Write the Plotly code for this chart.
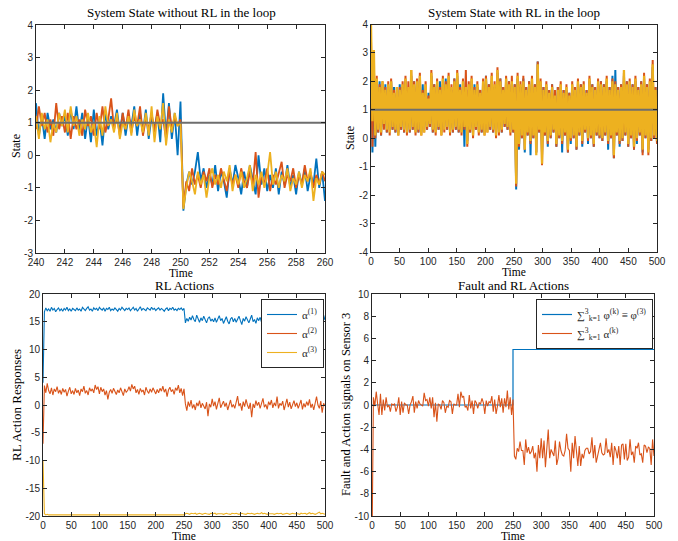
import numpy as np
import plotly.graph_objects as go

W, H = 678, 541
BLUE, RED, YEL, GRAY = "#0072BD", "#D95319", "#EDB120", "#6E6E6E"

# ---------------- Panel 1: System state without RL (t = 240..260) ----------------
t1 = np.round(np.arange(240, 260.0001, 0.2), 1)
s1_blue = [1.6, 0.6, 1.2, 0.5, 1.3, 0.8, 1.1, 0.7, 1.3, 0.9,
           1.2, 0.6, 1.4, 0.8, 1.5, 0.7, 1.3, 0.5, 1.2, 0.4,
           1.4, 0.6, 1.1, 0.3, 1.3, 0.8, 1.2, 0.9, 1.4, 0.7,
           1.3, 0.6, 1.2, 0.9, 1.5, 0.6, 1.3, 0.7, 1.4, 0.5,
           1.2, 0.8, 1.3, 0.4, 1.9, 0.6, 1.6, 0.5, 1.3, 0.0,
           1.65,
           -1.7, -0.9, -0.5, -0.9, -0.5, 0.1, -0.8, -0.4, -1.0, -0.6,
           -0.9, -0.3, -1.1, -0.5, -0.8, -1.3, -0.4, -0.9, -0.3, -0.7,
           -1.2, -0.5, -1.0, -0.3, -0.8, -1.2, 0.0, -0.9, -0.4, -1.1,
           -0.6, -1.0, -0.4, -1.2, -0.5, -0.9, -0.3, -1.0, -0.6, -1.2,
           -0.5, -0.9, -0.4, -1.1, -0.6, -0.9, -0.1, -1.0, -0.5, -1.4]
s1_red = [0.8, 1.5, 0.9, 1.3, 0.7, 1.1, 0.6, 1.6, 0.8, 1.2,
          0.7, 1.3, 0.5, 1.2, 0.8, 1.1, 0.6, 1.4, 0.9, 1.2,
          0.6, 1.3, 0.8, 1.5, 0.7, 1.1, 1.75, 0.8, 1.2, 0.6,
          1.3, 0.8, 1.4, 0.7, 1.2, 0.9, 1.5, 0.6, 1.1, 0.8,
          1.3, 0.7, 1.4, 0.9, 1.1, 0.5, 1.5, 0.8, 1.2, 0.9,
          1.1,
          -1.6, -0.8, -1.1, -0.4, -0.9, -0.6, -1.0, -0.5, -0.8, -0.4,
          -1.0, -0.6, -0.9, -0.4, -0.8, -1.1, -0.5, -0.9, -0.6, -1.0,
          -0.4, -0.8, -1.0, -0.5, -0.9, 0.1, -1.3, -0.6, -0.9, -0.4,
          -1.1, -0.6, -0.9, -0.5, -0.2, -1.0, -0.6, -0.8, -0.4, -1.0,
          -0.6, -0.9, -0.3, -0.8, -0.5, -1.0, -0.6, -0.9, -0.5, -0.8]
s1_yel = [1.2, 0.5, 1.3, 0.8, 1.1, 0.4, 1.0, 0.7, 1.3, 0.9,
          1.4, 0.7, 1.5, 0.9, 1.2, 0.6, 1.1, 0.8, 1.3, 0.7,
          1.0, 0.25, 1.2, 0.6, 1.5, 0.9, 1.1, 0.7, 1.3, 0.5,
          1.0, 0.8, 1.2, 0.6, 1.4, 0.9, 1.1, 0.7, 1.3, 0.6,
          1.5, 0.4, 1.2, 0.8, 1.6, 0.3, 1.1, 0.7, 1.3, 0.9,
          1.0,
          -1.65, -1.0, -0.5, -0.8, -1.2, -0.5, -0.9, -0.6, -1.3, -0.7,
          -0.4, -0.9, -0.6, -1.0, -0.5, -0.8, -0.3, -1.1, -0.6, -0.9,
          -0.5, -1.0, -0.7, -0.3, -1.1, -0.6, -0.9, -0.5, -1.0, -0.6,
          0.1, -0.9, -0.5, -1.0, -0.6, -0.8, -0.4, -1.1, -0.7, -0.9,
          -0.5, -1.0, -0.6, -0.8, -0.4, -1.4, -0.7, -0.9, -0.5, -0.6]
ref_level = 1.0

# ---------------- Panel 2: System state with RL (peaks / troughs, t = 0..500) ----------------
s2_yel_up = [4.0, 3.1, 2.1, 1.8, 2.0, 1.7, 1.9, 2.0, 1.6, 1.8,
             1.7, 1.9, 2.1, 1.8, 2.4, 1.9, 2.0, 2.2, 1.6, 1.9,
             1.4, 2.3, 1.8, 2.0, 1.7, 2.1, 1.9, 2.2, 1.8, 2.0,
             2.3, 1.7, 2.0, 1.8, 1.9, 2.1, 1.7, 1.9, 1.6, 2.0,
             2.1, 1.8, 2.2, 1.9, 2.4, 2.0, 1.7, 2.1, 1.9, 2.0,
             1.8, 2.2, 1.9, 2.0, 1.7, 1.9, 2.1, 1.8, 2.6, 2.0,
             1.7, 1.9, 1.6, 1.8, 1.5, 1.7, 1.9, 1.6, 1.8, 1.5,
             1.9, 1.7, 2.0, 1.8, 1.9, 1.6, 2.1, 1.8, 1.7, 2.0,
             1.9, 1.8, 2.1, 1.7, 2.0, 1.9, 1.7, 1.8, 2.4, 1.9,
             2.0, 1.8, 2.1, 1.7, 1.9, 2.2, 1.8, 2.0, 2.6, 1.7]
s2_yel_lo = [0.6, 0.1, 0.3, 0.2, 0.5, 0.3, 0.2, 0.4, 0.3, 0.1,
             0.4, 0.3, 0.2, 0.3, 0.4, 0.2, 0.3, 0.1, 0.2, 0.4,
             0.5, 0.3, 0.2, 0.4, 0.1, 0.3, 0.4, 0.2, 0.3, 0.4,
             0.3, 0.2, 0.4, -0.2, 0.3, 0.1, 0.4, 0.2, 0.3, 0.1,
             0.2, 0.4, 0.3, 0.1, 0.2, 0.3, 0.5, 0.4, 0.2, 0.3,
             -1.6, -0.2, 0.1, -0.4, 0.2, -0.1, 0.1, -0.6, 0.3, -0.9,
             0.2, -0.1, 0.1, 0.3, -0.2, 0.1, -0.1, 0.2, -0.4, 0.0,
             0.1, -0.3, 0.2, -0.1, 0.3, 0.0, 0.1, -0.2, 0.2, 0.1,
             0.0, 0.2, -0.1, 0.1, -0.6, 0.2, -0.1, 0.0, 0.2, -0.2,
             0.1, -0.3, 0.0, 0.2, -0.4, 0.1, -0.5, 0.0, 0.1, -0.1]
s2_blue_up = [3.0, 2.4, 1.9, 2.0, 1.8, 1.9, 1.7, 2.0, 1.8, 1.6,
              1.9, 1.8, 2.0, 1.7, 2.2, 2.0, 1.8, 2.1, 1.9, 1.7,
              1.6, 2.2, 1.9, 1.8, 2.0, 1.9, 2.1, 2.0, 1.7, 2.1,
              2.2, 1.9, 1.8, 2.0, 1.7, 2.0, 1.9, 1.8, 1.7, 1.9,
              2.2, 1.9, 2.0, 1.8, 2.3, 2.1, 1.8, 2.0, 2.0, 1.9,
              1.9, 2.1, 1.8, 2.1, 1.8, 2.0, 2.0, 1.9, 2.7, 1.9,
              1.8, 1.8, 1.7, 1.9, 1.6, 1.8, 1.8, 1.7, 1.7, 1.6,
              1.8, 1.8, 1.9, 1.9, 1.8, 1.7, 2.0, 1.9, 1.8, 1.9,
              2.0, 1.9, 2.0, 1.8, 2.2, 2.4, 1.8, 1.9, 2.2, 2.0,
              1.9, 1.9, 2.0, 1.8, 2.0, 2.1, 1.9, 1.9, 2.5, 1.8]
s2_blue_lo = [-0.5, -0.3, 0.2, 0.1, 0.4, 0.2, 0.3, 0.3, 0.2, 0.2,
              0.3, 0.2, 0.3, 0.2, 0.3, 0.3, 0.2, 0.2, 0.3, 0.3,
              0.4, 0.2, 0.3, 0.3, 0.2, 0.4, 0.3, 0.3, 0.2, 0.3,
              0.2, 0.3, -0.3, -0.1, 0.2, 0.2, 0.3, 0.3, 0.2, 0.2,
              0.3, 0.3, 0.2, 0.2, 0.3, 0.2, 0.4, 0.3, 0.3, 0.2,
              -1.8, -0.4, 0.0, -0.5, 0.1, -0.6, 0.0, -0.5, 0.2, -0.6,
              0.1, -0.3, 0.0, 0.2, -0.3, 0.0, -0.5, 0.1, -0.5, -0.2,
              0.0, -0.4, 0.1, -0.3, 0.2, -0.2, 0.0, -0.3, 0.1, 0.0,
              -0.1, 0.1, -0.4, 0.0, -0.7, 0.1, -0.3, -0.1, 0.1, -0.3,
              0.0, -0.4, -0.2, 0.1, -0.5, 0.0, -0.4, -0.1, 0.0, -0.2]
s2_red_up = [3.5, 2.6, 2.2, 1.9, 2.0, 1.8, 2.0, 2.1, 1.7, 1.8,
             1.8, 2.0, 2.2, 2.0, 2.4, 2.0, 2.1, 2.3, 1.7, 2.0,
             1.5, 2.4, 1.9, 2.1, 1.8, 2.2, 2.0, 2.3, 1.9, 2.1,
             2.4, 1.8, 2.1, 2.4, 2.0, 2.2, 1.8, 2.0, 1.7, 2.1,
             2.2, 1.9, 2.3, 2.0, 2.5, 2.1, 1.8, 2.2, 2.0, 2.2,
             1.9, 2.3, 2.0, 2.2, 1.8, 2.0, 2.2, 1.9, 2.7, 2.1,
             1.8, 2.0, 1.7, 1.9, 1.7, 1.8, 2.0, 1.7, 1.9, 1.6,
             2.0, 1.8, 2.1, 1.9, 2.0, 1.7, 2.2, 1.9, 1.8, 2.1,
             2.0, 1.9, 2.2, 1.8, 2.1, 2.0, 1.8, 1.9, 2.3, 2.0,
             2.1, 1.9, 2.2, 1.8, 2.0, 2.3, 1.9, 2.1, 2.75, 1.8]
s2_red_lo = [-0.3, 0.0, 0.2, 0.1, 0.3, 0.2, 0.1, 0.3, 0.2, 0.1,
             0.3, 0.2, 0.1, 0.2, 0.3, 0.1, 0.2, 0.1, 0.2, 0.3,
             0.4, 0.2, 0.1, 0.3, 0.1, 0.2, 0.3, 0.1, 0.2, 0.3,
             0.2, 0.1, 0.3, -0.3, 0.2, 0.0, 0.3, 0.1, 0.2, 0.1,
             0.2, 0.3, 0.2, 0.0, 0.1, 0.2, 0.4, 0.3, 0.1, 0.2,
             -1.7, -0.3, 0.0, -0.4, 0.1, -0.2, 0.0, -0.5, 0.2, -0.95,
             0.1, -0.2, 0.0, 0.2, -0.3, 0.0, -0.2, 0.1, -0.5, -0.1,
             0.0, -0.4, 0.1, -0.2, 0.2, -0.1, 0.0, -0.3, 0.1, 0.0,
             -0.1, 0.1, -0.2, 0.0, -0.7, 0.1, -0.2, -0.1, 0.1, -0.3,
             0.0, -0.4, -0.1, 0.1, -0.6, 0.0, -0.6, -0.1, 0.0, -0.2]

# ---------------- Panel 3: RL actions (t = 0..500, step 2.5) ----------------
t3 = np.arange(0, 500.0001, 2.5)
alpha1 = [4.0,
          16.8, 17.5, 17.0, 17.3, 16.9, 17.6, 17.1, 17.4, 16.8, 17.2, 17.5, 17.0, 17.3, 16.9, 17.4, 17.1, 17.6, 17.0, 17.3, 16.9,
          17.4, 17.2, 17.0, 17.5, 17.1, 17.3, 16.9, 17.6, 17.2, 17.0, 17.4, 17.7, 17.1, 17.3, 16.9, 17.5, 17.2, 17.4, 17.0, 17.6,
          17.3, 17.1, 17.5, 16.9, 17.4, 17.2, 17.6, 17.0, 17.3, 17.1, 17.5, 17.2, 16.9, 17.4, 17.1, 17.6, 17.3, 17.0, 17.4, 17.2,
          17.5, 17.0, 17.3, 17.6, 17.1, 17.4, 16.9, 17.3, 17.7, 17.1, 17.4, 17.2, 17.0, 17.5, 17.3, 17.1, 17.6, 17.2, 17.4, 17.0,
          17.3, 17.5, 17.1, 17.4, 17.2, 16.9, 17.3, 17.5, 17.0, 17.4, 17.2, 17.6, 17.1, 17.3, 17.0, 17.4, 17.2, 17.5, 17.1, 17.4,
          14.8, 15.6, 15.1, 15.8, 15.3, 16.1, 15.4, 15.0, 16.2, 15.5, 14.9, 15.7, 15.2, 16.0, 15.4, 14.8, 15.6, 15.9, 15.1, 15.5,
          15.0, 15.7, 14.9, 15.4, 16.1, 15.2, 15.6, 14.7, 15.3, 15.9, 15.1, 14.6, 15.5, 15.8, 15.0, 15.6, 14.9, 15.4, 16.0, 15.2,
          14.5, 15.6, 15.1, 15.9, 15.3, 14.8, 15.5, 16.2, 15.0, 15.4, 14.7, 15.7, 15.2, 15.8, 14.9, 15.5, 15.1, 15.9, 15.3, 14.6,
          15.6, 15.2, 15.8, 14.8, 15.4, 15.0, 15.9, 15.3, 14.9, 15.6, 15.1, 15.7, 14.3, 15.2, 15.5, 14.9, 15.8, 15.3, 15.0, 15.6,
          15.2, 14.8, 15.5, 15.9, 15.1, 14.7, 15.4, 15.8, 15.0, 15.6, 14.9, 15.3, 15.7, 14.4, 15.2, 16.1, 15.0, 15.5, 16.2, 15.3]
alpha2 = [-7.0,
          3.5, 2.2, 3.9, 2.6, 2.0, 3.1, 1.8, 2.9, 2.4, 3.3, 2.1, 2.7, 1.9, 3.0, 2.3, 2.8, 1.6, 2.5, 3.2, 2.0,
          2.6, 1.9, 3.0, 2.2, 2.7, 1.7, 2.9, 2.4, 3.4, 2.1, 2.6, 1.8, 3.1, 2.5, 2.9, 2.2, 3.6, 2.8, 3.3, 2.0,
          3.2, 2.4, 2.9, 1.8, 2.6, 1.0, 2.3, 2.8, 2.1, 3.0, 2.5, 1.9, 2.7, 2.2, 3.1, 2.4, 1.7, 2.9, 2.3, 2.6,
          3.3, 2.5, 3.7, 2.9, 3.4, 2.2, 2.8, 1.9, 3.0, 2.4, 2.7, 1.8, 3.2, 2.5, 2.1, 2.9, 2.3, 3.1, 2.6, 2.0,
          2.8, 2.2, 3.0, 2.5, 3.4, 2.3, 2.9, 1.5, 2.7, 3.2, 2.4, 2.8, 1.9, 3.1, 2.6, 3.6, 2.2, 3.0, 1.7, 2.9,
          0.2, -1.0, 0.6, -0.3, 0.9, -0.6, 0.1, -0.9, 0.4, -0.2, 0.8, -0.5, 0.3, -0.1, -0.7, 0.5, -2.0, 0.2, -0.4, 1.1,
          -0.2, 0.6, -0.8, 0.3, 1.3, -0.5, 0.0, 0.7, -0.3, 0.4, -0.9, 0.2, 0.9, -0.4, 0.1, -0.6, 0.5, 1.6, -0.2, 0.3,
          -1.0, 0.6, -0.3, 1.0, 0.0, -0.7, 0.4, -2.2, 0.2, -0.5, 0.8, -0.1, 0.5, -0.6, 0.3, 1.2, -0.4, 0.1, -0.8, 0.6,
          0.0, 0.9, -0.5, 0.4, -0.2, 1.5, -0.6, 0.3, -0.1, 0.7, -0.9, 0.2, 1.1, -0.4, 0.5, -0.7, 0.1, 0.8, -0.3, 0.4,
          -0.6, 0.2, 0.9, -0.8, 0.3, -0.4, 0.6, -0.1, 1.0, -0.5, 0.2, -0.9, 0.4, 1.5, 0.0, -0.6, 0.7, -1.4, 0.3, -0.2]
alpha3 = [-10.0,
          -19.6, -19.8, -19.7, -19.8, -19.8, -19.7, -19.8, -19.8, -19.7, -19.8, -19.8, -19.7, -19.8, -19.8, -19.7, -19.8, -19.8, -19.7, -19.8, -19.8,
          -19.7, -19.8, -19.8, -19.7, -19.8, -19.8, -19.8, -19.7, -19.8, -19.8, -19.7, -19.8, -19.8, -19.7, -19.8, -19.8, -19.7, -19.8, -19.8, -19.7,
          -19.8, -19.8, -19.7, -19.8, -19.8, -19.7, -19.8, -19.8, -19.8, -19.7, -19.8, -19.8, -19.7, -19.8, -19.8, -19.7, -19.8, -19.8, -19.7, -19.8,
          -19.8, -19.7, -19.8, -19.8, -19.7, -19.8, -19.8, -19.7, -19.8, -19.8, -19.7, -19.8, -19.8, -19.8, -19.7, -19.8, -19.8, -19.7, -19.8, -19.8,
          -19.7, -19.8, -19.8, -19.7, -19.8, -19.8, -19.7, -19.8, -19.8, -19.7, -19.8, -19.8, -19.7, -19.8, -19.8, -19.7, -19.8, -19.8, -19.7, -19.8,
          -19.6, -19.5, -19.6, -19.7, -19.5, -19.6, -19.6, -19.5, -19.7, -19.6, -19.5, -19.6, -19.7, -19.6, -19.5, -19.6, -19.6, -19.7, -19.5, -19.6,
          -19.6, -19.5, -19.7, -19.6, -19.6, -19.5, -19.6, -19.7, -19.6, -19.5, -19.6, -19.6, -19.7, -19.5, -19.6, -19.6, -19.5, -19.6, -19.7, -19.6,
          -19.5, -19.6, -19.6, -19.7, -19.5, -19.6, -19.6, -19.5, -19.6, -19.7, -19.6, -19.5, -19.6, -19.6, -19.4, -19.6, -19.5, -19.6, -19.7, -19.6,
          -19.6, -19.5, -19.6, -19.7, -19.6, -19.5, -19.6, -19.6, -19.5, -19.7, -19.6, -19.6, -19.5, -19.6, -19.7, -19.6, -19.5, -19.6, -19.6, -19.5,
          -19.6, -19.7, -19.5, -19.6, -19.6, -19.5, -19.7, -19.6, -19.4, -19.6, -19.5, -19.6, -19.7, -19.6, -19.5, -19.3, -19.6, -19.5, -19.6, -19.7]

# ---------------- Panel 4: fault vs. sum of actions ----------------
fault_t = [0, 250, 250, 500]
fault_v = [0, 0, 5, 5]

# ticks
ticks_p1x = [240, 242, 244, 246, 248, 250, 252, 254, 256, 258, 260]
ticks_p1y = [-3, -2, -1, 0, 1, 2, 3, 4]
ticks_p2y = [-4, -3, -2, -1, 0, 1, 2, 3, 4]
ticks_t = [0, 50, 100, 150, 200, 250, 300, 350, 400, 450, 500]
ticks_p3y = [-20, -15, -10, -5, 0, 5, 10, 15, 20]
ticks_p4y = [-10, -8, -6, -4, -2, 0, 2, 4, 6, 8, 10]


def lab(v):
    return [str(x) for x in v]  # MATLAB-style hyphen minus


def zigzag(up, lo):
    y = []
    for u, l in zip(up, lo):
        y += [u, l]
    return np.linspace(0, 500, len(y)), y


fig = go.Figure()

# Panel 1
for y, c in [(s1_blue, BLUE), (s1_red, RED), (s1_yel, YEL)]:
    fig.add_trace(go.Scatter(x=t1, y=y, mode="lines", line=dict(color=c, width=1.8),
                             xaxis="x", yaxis="y", showlegend=False))
fig.add_trace(go.Scatter(x=[240, 260], y=[ref_level, ref_level], mode="lines",
                         line=dict(color=GRAY, width=2), xaxis="x", yaxis="y", showlegend=False))

# Panel 2
for up, lo, c, w in [(s2_blue_up, s2_blue_lo, BLUE, 2.0), (s2_red_up, s2_red_lo, RED, 2.0),
                     (s2_yel_up, s2_yel_lo, YEL, 2.3)]:
    zx, zy = zigzag(up, lo)
    fig.add_trace(go.Scatter(x=zx, y=zy, mode="lines", line=dict(color=c, width=w),
                             xaxis="x2", yaxis="y2", showlegend=False))
fig.add_trace(go.Scatter(x=[0, 500], y=[ref_level, ref_level], mode="lines",
                         line=dict(color=GRAY, width=2), xaxis="x2", yaxis="y2", showlegend=False))

# Panel 3
for y, c, n in [(alpha1, BLUE, "α<sup>(1)</sup>"), (alpha2, RED, "α<sup>(2)</sup>"), (alpha3, YEL, "α<sup>(3)</sup>")]:
    fig.add_trace(go.Scatter(x=t3, y=y, mode="lines", line=dict(color=c, width=1.1),
                             xaxis="x3", yaxis="y3", name=n, legend="legend"))

# Panel 4
alpha_sum = np.array(alpha1) + np.array(alpha2) + np.array(alpha3)
fig.add_trace(go.Scatter(x=fault_t, y=fault_v, mode="lines", line=dict(color=BLUE, width=1.2),
                         xaxis="x4", yaxis="y4",
                         name="∑<sup>3</sup><sub>k=1</sub> φ<sup>(k)</sup> ≡ φ<sup>(3)</sup>", legend="legend2"))
fig.add_trace(go.Scatter(x=t3, y=alpha_sum, mode="lines", line=dict(color=RED, width=1.1),
                         xaxis="x4", yaxis="y4",
                         name="∑<sup>3</sup><sub>k=1</sub> α<sup>(k)</sup>", legend="legend2"))


def px(x):
    return x / W


def py(y):
    return 1 - y / H


AX = dict(showline=True, mirror="ticks", linecolor="#262626", linewidth=1, ticks="inside",
          ticklen=4, tickcolor="#262626", showgrid=False, zeroline=False, automargin=False,
          tickfont=dict(family="Liberation Sans, Arial, sans-serif", size=10, color="#262626"))

fig.update_layout(
    width=W, height=H, margin=dict(l=0, r=0, t=0, b=0, pad=0, autoexpand=False),
    paper_bgcolor="white", plot_bgcolor="white",
    xaxis=dict(AX, domain=[px(36), px(325)], range=[240, 260], anchor="y",
               tickvals=ticks_p1x, ticktext=lab(ticks_p1x)),
    yaxis=dict(AX, domain=[py(253), py(25)], range=[-3, 4], anchor="x",
               tickvals=ticks_p1y, ticktext=lab(ticks_p1y)),
    xaxis2=dict(AX, domain=[px(371), px(657)], range=[0, 500], anchor="y2",
                tickvals=ticks_t, ticktext=lab(ticks_t)),
    yaxis2=dict(AX, domain=[py(252), py(24.5)], range=[-4, 4], anchor="x2",
                tickvals=ticks_p2y, ticktext=lab(ticks_p2y)),
    xaxis3=dict(AX, domain=[px(43), px(325)], range=[0, 500], anchor="y3",
                tickvals=ticks_t, ticktext=lab(ticks_t)),
    yaxis3=dict(AX, domain=[py(516), py(294)], range=[-20, 20], anchor="x3",
                tickvals=ticks_p3y, ticktext=lab(ticks_p3y)),
    xaxis4=dict(AX, domain=[px(372), px(654)], range=[0, 500], anchor="y4",
                tickvals=ticks_t, ticktext=lab(ticks_t)),
    yaxis4=dict(AX, domain=[py(516), py(294)], range=[-10, 10], anchor="x4",
                tickvals=ticks_p4y, ticktext=lab(ticks_p4y)),
    legend=dict(x=px(324), y=py(299), xanchor="right", yanchor="top",
                bgcolor="white", bordercolor="#262626", borderwidth=1,
                font=dict(family="Liberation Serif, serif", size=11, color="#262626"),
                tracegroupgap=0, itemwidth=30),
    legend2=dict(x=px(653), y=py(299), xanchor="right", yanchor="top",
                 bgcolor="white", bordercolor="#262626", borderwidth=1,
                 font=dict(family="Liberation Serif, serif", size=11, color="#262626"),
                 tracegroupgap=0, itemwidth=30),
)

SERIF = "Liberation Serif, Times New Roman, serif"
notes = [
    ("System State without RL in the loop", 181, 13, 13, 0),
    ("System State with RL in the loop", 514, 13, 13, 0),
    ("RL Actions", 184, 285, 13, 0),
    ("Fault and RL Actions", 513, 285, 13, 0),
    ("Time", 181, 272.5, 11.5, 0),
    ("Time", 514, 272, 11.5, 0),
    ("Time", 184, 536, 11.5, 0),
    ("Time", 513, 536, 11.5, 0),
    ("State", 16, 146, 12, -90),
    ("State", 350, 138, 12, -90),
    ("RL Action Responses", 16, 405, 13, -90),
    ("Fault and Action signals on Sensor 3", 346, 405, 12.5, -90),
]
for text, x, y, s, ang in notes:
    fig.add_annotation(text=text, x=px(x), y=py(y), xref="paper", yref="paper",
                       xanchor="center", yanchor="middle", showarrow=False, textangle=ang,
                       font=dict(family=SERIF, size=s, color="#000000"))

fig.write_html("out.html", config={"displayModeBar": False},
               post_script="document.body.style.margin='0px';document.body.style.overflow='hidden';")
